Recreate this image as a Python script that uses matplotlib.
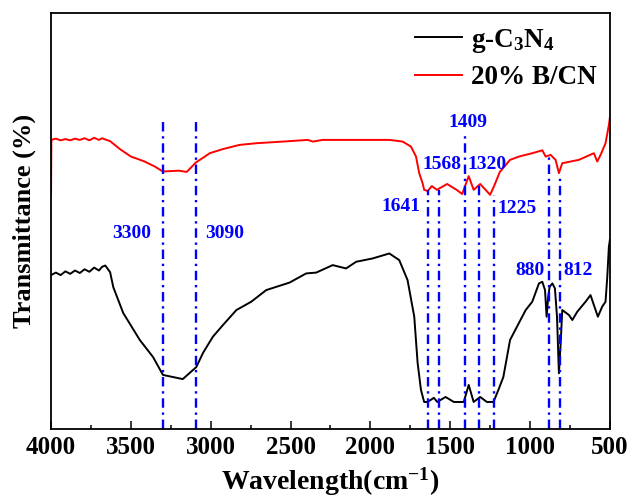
import matplotlib
matplotlib.use("Agg")
import matplotlib.pyplot as plt

plt.rcParams['font.family'] = ['Liberation Serif', 'DejaVu Serif']
plt.rcParams['font.weight'] = 'bold'
plt.rcParams['mathtext.fontset'] = 'custom'
plt.rcParams['mathtext.rm'] = 'Liberation Serif:bold'
plt.rcParams['mathtext.it'] = 'Liberation Serif:bold'
plt.rcParams['mathtext.bf'] = 'Liberation Serif:bold'
plt.rcParams['mathtext.default'] = 'rm'

# 20% B/CN spectrum (wavenumber, transmittance in arbitrary %)
bcn_wn = [4000, 3998, 3970, 3940, 3910, 3880, 3850, 3820, 3790, 3760, 3730, 3700,
          3680, 3660, 3630, 3569, 3500, 3420, 3350, 3300, 3250, 3200, 3150, 3092,
          3040, 3006, 2923, 2819, 2714, 2506, 2392, 2360, 2298, 2089, 1881, 1798,
          1746, 1714, 1694, 1673, 1663, 1641, 1615, 1583, 1519, 1460, 1425, 1384,
          1353, 1312, 1250, 1225, 1189, 1125, 1069, 986, 923, 902, 871, 840, 819,
          798, 694, 600, 579, 558, 527, 506, 500]
bcn_t = [56.3, 69.5, 69.8, 69.4, 69.7, 69.4, 69.8, 69.5, 69.9, 69.4, 70.0, 69.5,
         69.9, 69.6, 69.2, 67.3, 65.5, 64.4, 63.1, 61.9, 62.0, 62.1, 61.8, 64.1,
         65.4, 66.3, 67.3, 68.3, 68.7, 69.2, 69.5, 69.1, 69.5, 69.5, 69.5, 69.1,
         67.9, 65.5, 61.5, 59.1, 57.5, 57.2, 58.4, 57.5, 58.9, 57.5, 56.5, 60.8,
         57.5, 58.9, 56.3, 58.4, 61.8, 64.7, 65.5, 66.3, 67.0, 65.5, 65.9, 64.7, 61.5,
         63.9, 64.7, 66.3, 64.3, 65.9, 68.7, 73.1, 74.8]

# g-C3N4 spectrum
cn_wn = [4000, 3970, 3940, 3910, 3880, 3850, 3820, 3790, 3760, 3730, 3700, 3680,
         3660, 3630, 3610, 3548, 3444, 3361, 3299, 3237, 3175, 3131, 3090, 3048,
         2986, 2923, 2839, 2746, 2652, 2506, 2402, 2339, 2236, 2152, 2089, 1986,
         1881, 1819, 1767, 1725, 1704, 1683, 1663, 1641, 1602, 1581, 1529, 1477,
         1415, 1384, 1353, 1312, 1270, 1229, 1198, 1167, 1125, 1083, 1027, 986,
         944, 923, 906, 896, 886, 877, 860, 844, 831, 819, 808, 798, 756, 735,
         704, 652, 621, 600, 575, 548, 527, 516, 506, 500]
cn_t = [37.0, 37.6, 37.0, 37.9, 37.3, 38.1, 37.5, 38.4, 37.8, 38.8, 38.1, 39.0,
        39.3, 37.7, 34.1, 27.9, 21.4, 17.3, 13.0, 12.5, 12.0, 13.5, 14.9, 18.3,
        22.2, 25.0, 28.6, 30.6, 33.4, 35.2, 37.4, 37.6, 39.4, 38.6, 40.2, 41.0,
        42.2, 40.6, 35.8, 27.0, 15.9, 9.4, 6.5, 6.5, 7.5, 6.5, 7.7, 6.5,
        6.5, 10.6, 6.5, 7.7, 6.5, 6.5, 9.4, 12.5, 21.4, 24.5, 28.6, 30.6,
        35.0, 35.4, 33.4, 27.0, 31.8, 34.2, 35.0, 33.8, 27.0, 13.4, 20.6, 28.6, 27.4, 26.2,
        28.2, 30.6, 32.2, 29.8, 27.0, 29.4, 30.6, 36.6, 43.8, 45.4]

# marked peaks
peak_wn = [3300, 3090, 1641, 1568, 1409, 1320, 1225, 880, 812]
peak_top = [73.8, 74.3, 57.5, 57.5, 70.7, 59.1, 56.3, 65.4, 61.1]
label_text = ['3300', '3090', '1641', '1568', '1409', '1320', '1225', '880', '812']
label_x = [3494, 2912, 1806, 1550, 1387, 1269, 1083, 1000, 700]
label_y = [47.1, 47.1, 53.4, 63.5, 73.6, 63.5, 53.1, 38.2, 38.2]

fig = plt.figure(figsize=(6.3, 5.01), dpi=100)
ax = fig.add_axes([0.081, 0.1437, 0.887, 0.8303])

ax.plot(cn_wn, cn_t, color='black', lw=1.4, label='g-C$_3$N$_4$')
ax.plot(bcn_wn, bcn_t, color='#ff0000', lw=1.4, label='20% B/CN')

for w, top in zip(peak_wn, peak_top):
    ax.plot([w, w], [0, top], color='#0000ff', lw=1.7, linestyle=(0, (4, 2, 1, 2)))

for t, x, y in zip(label_text, label_x, label_y):
    ax.text(x, y, t, color='#0000ff', fontsize=14, fontweight='bold',
            ha='center', va='center')

ax.set_xlim(4000, 500)
ax.set_ylim(0, 100)
ax.set_xticks([4000, 3500, 3000, 2500, 2000, 1500, 1000, 500])
ax.set_xticks(range(3750, 500, -500), minor=True)
ax.set_yticks([])
ax.tick_params(axis='x', which='major', direction='in', length=5.5, width=1.1,
               labelsize=18, pad=5)
ax.tick_params(axis='x', which='minor', direction='in', length=3, width=1.1)
for s in ax.spines.values():
    s.set_linewidth(1.3)

ax.set_xlabel('Wavelength(cm$^{-1}$)', fontsize=20, fontweight='bold', labelpad=5)
ax.set_ylabel('Transmittance (%)', fontsize=19, fontweight='bold', labelpad=11)

ax.legend(loc='upper right', bbox_to_anchor=(1.0, 1.0), frameon=False, fontsize=19.5,
          handlelength=1.75, handletextpad=0.3, labelspacing=0.4,
          borderaxespad=0.2, borderpad=0.3)

fig.savefig('out.png', dpi=100)
